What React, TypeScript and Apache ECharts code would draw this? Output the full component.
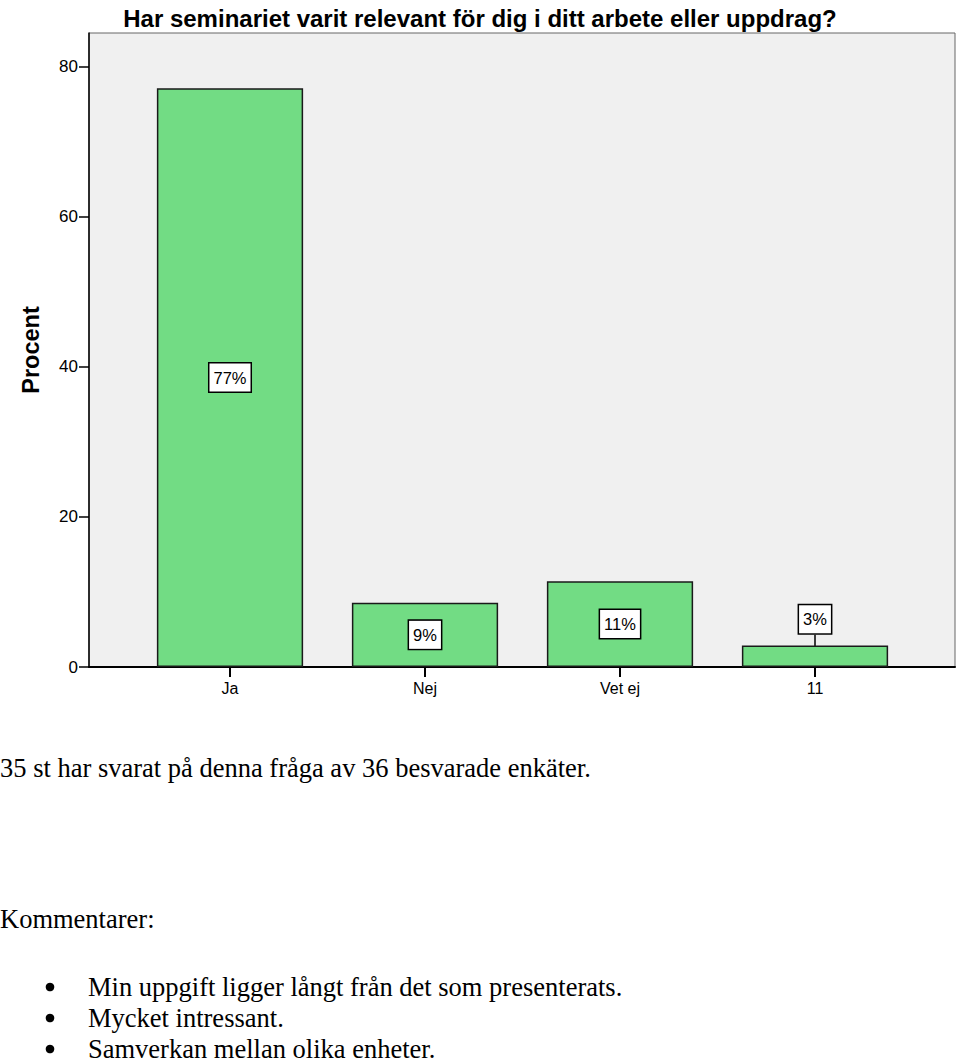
import React, { useEffect, useRef } from "react";
import * as echarts from "echarts";

const categories = ["Ja", "Nej", "Vet ej", "11"];
const percents = [77.14, 8.57, 11.43, 2.86];
const yTicks = [0, 20, 40, 60, 80];
const yMax = 84.5;
const titleText = "Har seminariet varit relevant för dig i ditt arbete eller uppdrag?";
const yName = "Procent";
const summary = "35 st har svarat på denna fråga av 36 besvarade enkäter.";
const commentsHeader = "Kommentarer:";
const comments = [
  "Min uppgift ligger långt från det som presenterats.",
  "Mycket intressant.",
  "Samverkan mellan olika enheter.",
];

const SANS = "'Liberation Sans', Arial, sans-serif";
const SERIF = "'Liberation Serif', 'Times New Roman', serif";

export default function App() {
  const ref = useRef<HTMLDivElement>(null);
  useEffect(() => {
    if (!ref.current) return;
    const chart = echarts.init(ref.current, undefined, { renderer: "svg" });
    const serifFont = `26.5px ${SERIF}`;
    const graphics: any[] = [
      {
        type: "text",
        x: 0,
        y: 768,
        style: { text: summary, font: serifFont, fill: "#000", textVerticalAlign: "middle" },
      },
      {
        type: "text",
        x: 0,
        y: 919,
        style: { text: commentsHeader, font: serifFont, fill: "#000", textVerticalAlign: "middle" },
      },
    ];
    comments.forEach((c, i) => {
      const cy = 987 + i * 31;
      graphics.push({
        type: "circle",
        shape: { cx: 50, cy, r: 4.3 },
        style: { fill: "#000" },
      });
      graphics.push({
        type: "text",
        x: 88,
        y: cy,
        style: { text: c, font: serifFont, fill: "#000", textVerticalAlign: "middle" },
      });
    });

    chart.setOption({
      animation: false,
      backgroundColor: "#fff",
      title: {
        text: titleText,
        left: "center",
        top: 1,
        textStyle: { fontSize: 24, fontWeight: "bold", color: "#000", fontFamily: SANS },
      },
      grid: [
        {
          left: 89,
          top: 33,
          width: 866,
          height: 634,
          show: true,
          backgroundColor: "#f0f0f0",
          borderColor: "#666",
          borderWidth: 1,
        },
        { left: 132.5, top: 33, width: 780, height: 634 },
      ],
      xAxis: [
        {
          gridIndex: 0,
          type: "category",
          data: [""],
          axisLine: { show: true, lineStyle: { color: "#000", width: 2 } },
          axisTick: { show: false },
          axisLabel: { show: false },
        },
        {
          gridIndex: 1,
          type: "category",
          data: categories,
          axisLine: { show: false },
          axisTick: { show: true, alignWithLabel: true, length: 10, lineStyle: { color: "#000", width: 2 } },
          axisLabel: { margin: 13, fontSize: 16, color: "#000", fontFamily: SANS },
        },
      ],
      yAxis: [
        {
          gridIndex: 0,
          type: "value",
          min: 0,
          max: yMax,
          interval: 20,
          name: yName,
          nameLocation: "middle",
          nameGap: 46,
          nameTextStyle: { fontSize: 23.5, fontWeight: "bold", color: "#000", fontFamily: SANS },
          axisLine: { show: true, lineStyle: { color: "#000", width: 1.5 } },
          axisTick: { show: true, length: 10, customValues: yTicks, lineStyle: { color: "#000", width: 1.5 } },
          axisLabel: { customValues: yTicks, margin: 11, fontSize: 17, color: "#000", fontFamily: SANS },
          splitLine: { show: false },
        },
        { gridIndex: 1, type: "value", min: 0, max: yMax, show: false, splitLine: { show: false } },
      ],
      series: [
        {
          type: "bar",
          xAxisIndex: 1,
          yAxisIndex: 1,
          data: percents,
          barWidth: "75%",
          itemStyle: { color: "#72dc84", borderColor: "#1a1a1a", borderWidth: 1.5 },
          label: {
            show: true,
            position: "inside",
            formatter: (p: any) => Math.round(p.value) + "%",
            fontSize: 16.5,
            fontFamily: SANS,
            color: "#000",
            backgroundColor: "#fff",
            borderColor: "#000",
            borderWidth: 1.5,
            padding: [6, 4, 5, 4],
          },
          labelLine: { show: true, lineStyle: { color: "#000", width: 1.5 } },
          labelLayout: (params: any) => (params.dataIndex === 3 ? { dy: -37 } : {}),
        },
      ],
      graphic: graphics,
    });
    return () => chart.dispose();
  }, []);
  return (
    <div
      ref={ref}
      style={{ position: "absolute", left: 0, top: 0, width: 960, height: 1063 }}
    />
  );
}
